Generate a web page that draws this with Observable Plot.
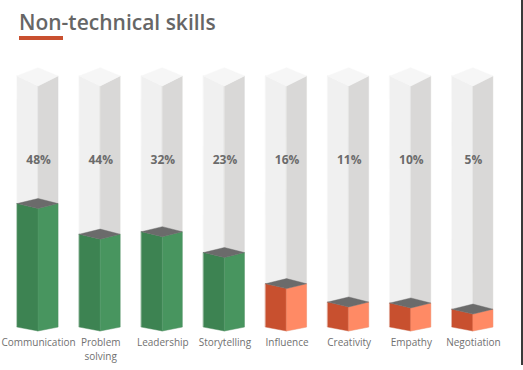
<!DOCTYPE html>
<html>
<head>
<meta charset="utf-8">
<script src="https://cdn.jsdelivr.net/npm/d3@7"></script>
<script src="https://cdn.jsdelivr.net/npm/@observablehq/plot@0.6"></script>
<style>
  html, body { margin: 0; padding: 0; background: #ffffff; }
  #page { position: relative; width: 523px; height: 370px; overflow: hidden; font-family: "Open Sans", sans-serif; }
  #header { position: relative; height: 48px; }
  #title { position: absolute; left: 19px; top: 9px; font-size: 21px; line-height: 26px; font-weight: 600; color: #666666; white-space: nowrap; }
  #rule { position: absolute; left: 19px; top: 36px; width: 44px; height: 3.5px; background: #c9502f; }
  #edge { position: absolute; left: 521px; top: 0; width: 2px; height: 365px; background: #3a3a3a; }
  #chart svg { display: block; }
</style>
</head>
<body>
<div id="page">
  <div id="header"><div id="title">Non-technical skills</div><div id="rule"></div></div>
  <div id="chart"></div>
  <div id="edge"></div>
</div>
<script>
// ---- data ----
const skills = ["Communication", "Problem\nsolving", "Leadership", "Storytelling", "Influence", "Creativity", "Empathy", "Negotiation"];
const shares = [48, 44, 32, 23, 16, 11, 10, 5];              // printed labels (%)
const fillLevels = [50, 37.5, 38.5, 30, 17.3, 9.8, 9.4, 6.9]; // drawn fill height (% of column)
const tiers = ["top", "top", "top", "top", "rest", "rest", "rest", "rest"];
const columnMax = 100;

// ---- styling / geometry (not data) ----
const tierLeft = {top: "#3d8352", rest: "#c8502f"};
const tierRight = {top: "#48955f", rest: "#ff8a65"};
const wL = 21 / 62.125, wR = 20 / 62.125;   // face widths in category units
const dBot = 1.6;                            // bottom corner lift
const gSide = 4.1, gBack = 7.5;              // glass top diamond
const fSide = 2.0, fBack = 4.1;              // fill top diamond

const idx = skills.map((_, i) => i);

function leftFace(i, h, side) {
  return [{id: i, x: i - wL, y1: dBot, y2: h + side}, {id: i, x: i, y1: 0, y2: h}];
}
function rightFace(i, h, side) {
  return [{id: i, x: i, y1: 0, y2: h}, {id: i, x: i + wR, y1: dBot, y2: h + side}];
}
function topFace(i, h, side, back) {
  return [
    {id: i, x: i - wL, y1: h + side, y2: h + side},
    {id: i, x: i, y1: h, y2: h + back},
    {id: i, x: i + wR, y1: h + side, y2: h + side}
  ];
}

const glassL = idx.flatMap(i => leftFace(i, columnMax, gSide));
const glassR = idx.flatMap(i => rightFace(i, columnMax, gSide));
const glassT = idx.flatMap(i => topFace(i, columnMax, gSide, gBack));
const fillL = idx.flatMap(i => leftFace(i, fillLevels[i], fSide));
const fillR = idx.flatMap(i => rightFace(i, fillLevels[i], fSide));
const fillT = idx.flatMap(i => topFace(i, fillLevels[i], fSide, fBack));

// one row per label line
const labelLines = idx.flatMap(i => skills[i].split("\n").map((t, k) => ({i, k, t})));

const area = (data, fill, extra = {}) => Plot.areaY(data, {x: "x", y1: "y1", y2: "y2", z: "id", fill, stroke: fill, strokeWidth: 0.4, curve: "linear", ...extra});

const chart = Plot.plot({
  width: 521,
  height: 322,
  marginTop: 38,
  marginBottom: 39,
  marginLeft: 7,
  marginRight: 17,
  x: {domain: [-0.5, 7.5], axis: null},
  y: {domain: [0, columnMax], axis: null},
  color: {type: "identity"},
  style: {fontFamily: "'Open Sans', sans-serif", background: "transparent"},
  marks: [
    area(glassL, "#f0f0f0"),
    area(glassR, "#d9d8d7"),
    area(glassT, "#f6f6f6"),
    area(fillL, d => tierLeft[tiers[d.id]]),
    area(fillR, d => tierRight[tiers[d.id]]),
    area(fillT, "#6b6b6b"),
    Plot.text(idx, {x: i => i, y: 70, text: i => shares[i] + "%", fill: "#6b6b6b", fontSize: 12, fontWeight: 700}),
    Plot.text(labelLines.filter(d => d.k === 0), {x: "i", y: 0, text: "t", fill: "#707070", fontSize: 10, lineAnchor: "top", dy: 7.5}),
    Plot.text(labelLines.filter(d => d.k === 1), {x: "i", y: 0, text: "t", fill: "#707070", fontSize: 10, lineAnchor: "top", dy: 21.5})
  ]
});
document.getElementById("chart").appendChild(chart);
</script>
</body>
</html>
